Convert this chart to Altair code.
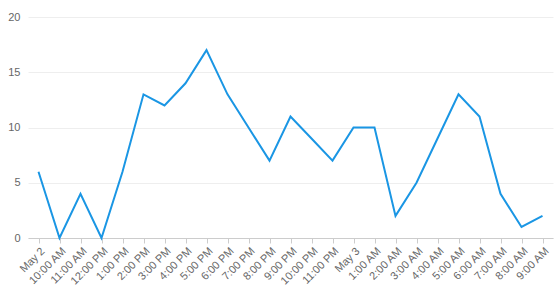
import altair as alt
import pandas as pd

labels = ["May 2", "10:00 AM", "11:00 AM", "12:00 PM", "1:00 PM", "2:00 PM", "3:00 PM",
          "4:00 PM", "5:00 PM", "6:00 PM", "7:00 PM", "8:00 PM", "9:00 PM", "10:00 PM",
          "11:00 PM", "May 3", "1:00 AM", "2:00 AM", "3:00 AM", "4:00 AM", "5:00 AM",
          "6:00 AM", "7:00 AM", "8:00 AM", "9:00 AM"]
values = [6, 0, 4, 0, 6, 13, 12, 14, 17, 13, 10, 7, 11, 9, 7, 10, 10, 2, 5, 9, 13, 11, 4, 1, 2]

df = pd.DataFrame({"t": labels, "v": values, "i": list(range(len(labels)))})

chart = alt.Chart(df).mark_line(color="#1a96e4", strokeWidth=2).encode(
    x=alt.X("t:N", sort=labels, title=None,
            scale=alt.Scale(type="point", padding=0.5),
            axis=alt.Axis(labelAngle=-45, labelAlign="right", labelBaseline="top",
                          labelFontSize=11, labelColor="#666666", labelFont="Arial",
                          domainColor="#cccccc", tickColor="#cccccc", tickSize=5,
                          labelPadding=2, grid=False)),
    y=alt.Y("v:Q", title=None, scale=alt.Scale(domain=[0, 20]),
            axis=alt.Axis(values=[0, 5, 10, 15, 20], labelFontSize=11, labelColor="#666666",
                          labelFont="Arial", domain=False, ticks=False, labelPadding=8,
                          gridColor="#eeeeee")),
).properties(
    width=525, height=221,
    autosize=alt.AutoSizeParams(type="none"),
    padding={"left": 28, "top": 17, "right": 1, "bottom": 62},
).configure_view(stroke=None)

chart.save("out.html", embed_options={"renderer": "svg", "actions": False})
